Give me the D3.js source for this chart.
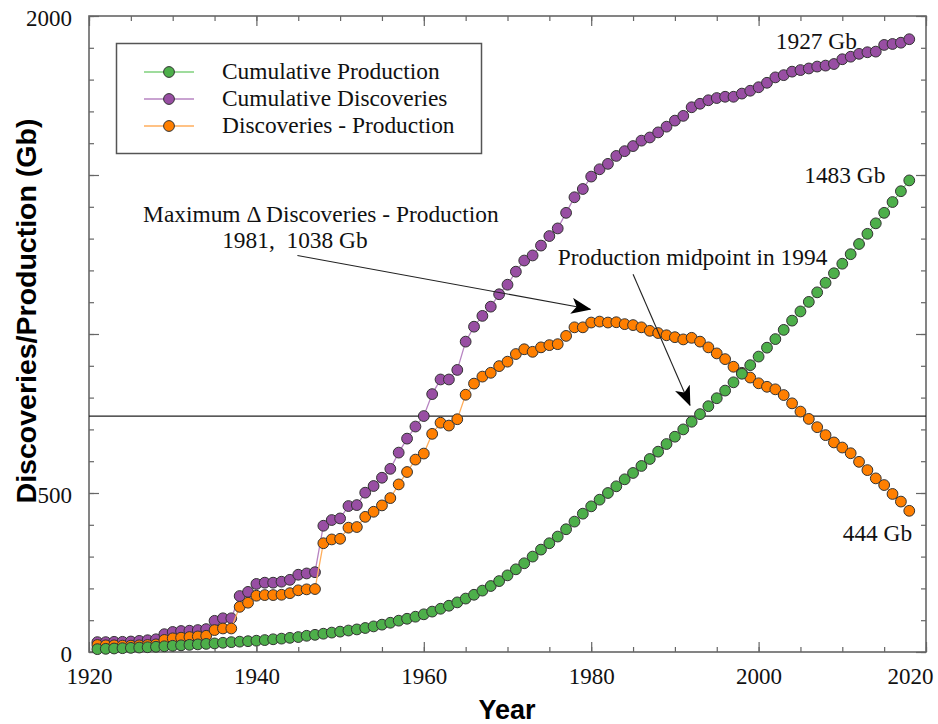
<!DOCTYPE html>
<html>
<head>
<meta charset="utf-8">
<script src="https://cdn.jsdelivr.net/npm/d3@7"></script>
<style>
  html, body { margin: 0; padding: 0; background: #fff; }
  svg { display: block; }
</style>
</head>
<body>
<svg id="chart" width="938" height="724"></svg>
<script>
// ---------------- DATA ----------------
const years = [1921,1922,1923,1924,1925,1926,1927,1928,1929,1930,
  1931,1932,1933,1934,1935,1936,1937,1938,1939,1940,
  1941,1942,1943,1944,1945,1946,1947,1948,1949,1950,
  1951,1952,1953,1954,1955,1956,1957,1958,1959,1960,
  1961,1962,1963,1964,1965,1966,1967,1968,1969,1970,
  1971,1972,1973,1974,1975,1976,1977,1978,1979,1980,
  1981,1982,1983,1984,1985,1986,1987,1988,1989,1990,
  1991,1992,1993,1994,1995,1996,1997,1998,1999,2000,
  2001,2002,2003,2004,2005,2006,2007,2008,2009,2010,
  2011,2012,2013,2014,2015,2016,2017,2018];

const cumProduction = [9,10,11,12,13,14,15,16.5,18,19.5,
  21,22.5,24,25.5,27,29,31,32.5,34,35.5,
  37.5,40,42,44.5,47,51,54,57.5,61,64,
  67.5,71,75.5,80.5,86,92,98.5,104.5,111,118.5,
  127,136,145.5,156,168,180,193,207.5,223,241,
  260,279,300,322,342,363,386,410,435,458,
  479,500,521,543,563,585,607,630,654,677,
  700,724,748,773,798,822,848,875,902,929,
  957,984,1013,1042,1071,1101,1131,1161,1191,1221,
  1251,1283,1315,1348,1381,1415,1449,1483];

const cumDiscoveries = [31,31,32,32,33,35,37,40,56,63,
  66,67,69,72,98,106,106,176,189,214,
  218,218,221,227,243,247,251,397,415,420,
  459,462,501,522,548,576,627,671,709,742,
  811,857,857,887,976,1023,1057,1086,1125,1155,
  1196,1231,1247,1278,1308,1332,1381,1430,1456,1495,
  1518,1535,1560,1575,1591,1608,1618,1634,1652,1671,
  1686,1713,1724,1735,1742,1746,1746,1756,1765,1776,
  1790,1807,1814,1825,1830,1835,1841,1844,1849,1864,
  1872,1881,1886,1888,1909,1912,1916,1927];

const discMinusProd = [22,21,21,20,20,21,22,24,38,43,
  45,47,49,51,69,74,74,142,155,177,
  179,179,180,185,194,197,198,342,354,356,
  391,393,425,441,461,484,527,566,605,624,
  686,721,712,732,809,844,866,878,899,913,
  937,952,944,958,965,968,994,1021,1021,1036,
  1039,1036,1037,1031,1028,1021,1010,1003,996,990,
  983,988,976,958,939,921,897,878,863,845,
  834,826,808,782,756,733,707,682,659,643,
  625,598,572,546,525,497,473,444];

const seriesNames = ["Cumulative Production", "Cumulative Discoveries", "Discoveries - Production"];
const xMajorTicks = [1920, 1940, 1960, 1980, 2000, 2020];
const yLabelledTicks = [0, 500, 2000];
const productionMidpoint = 741.5;

// ---------------- LAYOUT ----------------
const svg = d3.select("#chart");
const pLeft = 89, pRight = 926, pTop = 16, pBottom = 652;
const x = d3.scaleLinear().domain([1920, 2020]).range([pLeft, pRight]);
const y = d3.scaleLinear().domain([0, 2000]).range([pBottom, pTop]);

const fillColors = ["#4DAF4A", "#984EA3", "#FF7F00"];
const lineColors = ["#7FD07C", "#B784C2", "#FFAE5C"];
const serif = "'Liberation Serif','Times New Roman',serif";
const sans = "'Liberation Sans',Arial,sans-serif";
const frameColor = "#666";
const annFont = 23.4;

// ---------------- AXES ----------------
function styleAxis(g) {
  g.select(".domain").remove();
  g.selectAll(".tick line").attr("stroke", frameColor).attr("stroke-width", 1.2);
  g.selectAll(".tick text").attr("font-family", serif).attr("font-size", 23).attr("fill", "#111");
}
const xMinor = d3.range(1920, 2021, 5);
const yMinor = d3.range(0, 2001, 100);
// bottom
svg.append("g").attr("transform", `translate(0,${pBottom})`)
  .call(d3.axisBottom(x).tickValues(xMinor).tickSize(-5).tickFormat(""))
  .call(styleAxis);
svg.append("g").attr("transform", `translate(0,${pBottom})`)
  .call(d3.axisBottom(x).tickValues(xMajorTicks).tickSizeInner(-10).tickSizeOuter(0).tickPadding(16).tickFormat(d3.format("d")))
  .call(styleAxis)
  .call(g => g.selectAll(".tick text").filter(d => d === 2020).attr("dx", -16));
// top
svg.append("g").attr("transform", `translate(0,${pTop})`)
  .call(d3.axisTop(x).tickValues(xMinor).tickSize(-5).tickFormat(""))
  .call(styleAxis);
svg.append("g").attr("transform", `translate(0,${pTop})`)
  .call(d3.axisTop(x).tickValues(xMajorTicks).tickSize(-10).tickFormat(""))
  .call(styleAxis);
// left
svg.append("g").attr("transform", `translate(${pLeft},0)`)
  .call(d3.axisLeft(y).tickValues(yMinor).tickSize(-5).tickFormat(""))
  .call(styleAxis);
svg.append("g").attr("transform", `translate(${pLeft},0)`)
  .call(d3.axisLeft(y).tickValues(d3.range(0, 2001, 500)).tickSizeInner(-10).tickSizeOuter(0).tickPadding(17)
    .tickFormat(d => yLabelledTicks.includes(d) ? d3.format("d")(d) : ""))
  .call(styleAxis)
  .call(g => g.selectAll(".tick text").attr("dy", "0.42em"));
// right
svg.append("g").attr("transform", `translate(${pRight},0)`)
  .call(d3.axisRight(y).tickValues(yMinor).tickSize(-5).tickFormat(""))
  .call(styleAxis);
svg.append("g").attr("transform", `translate(${pRight},0)`)
  .call(d3.axisRight(y).tickValues(d3.range(0, 2001, 500)).tickSize(-10).tickFormat(""))
  .call(styleAxis);

// frame
svg.append("rect").attr("x", pLeft).attr("y", pTop)
  .attr("width", pRight - pLeft).attr("height", pBottom - pTop)
  .attr("fill", "none").attr("stroke", frameColor).attr("stroke-width", 1.6);

// axis titles
svg.append("text").attr("x", 507).attr("y", 719).attr("text-anchor", "middle")
  .attr("font-family", sans).attr("font-weight", "bold").attr("font-size", 27).text("Year");
svg.append("text").attr("transform", "translate(36,311) rotate(-90)").attr("text-anchor", "middle")
  .attr("font-family", sans).attr("font-weight", "bold").attr("font-size", 28.5)
  .text("Discoveries/Production (Gb)");

// midpoint horizontal line
svg.append("line").attr("x1", pLeft).attr("x2", pRight)
  .attr("y1", y(productionMidpoint)).attr("y2", y(productionMidpoint))
  .attr("stroke", "#222").attr("stroke-width", 1.2);

// ---------------- SERIES ----------------
const seriesValues = [cumProduction, cumDiscoveries, discMinusProd];
const drawOrder = [1, 2, 0];
const line = d3.line().x(d => x(d[0])).y(d => y(d[1]));
const r = 5.4;
drawOrder.forEach(i => {
  const pts = years.map((yr, k) => [yr, seriesValues[i][k]]);
  const g = svg.append("g");
  g.append("path").datum(pts).attr("d", line)
    .attr("fill", "none").attr("stroke", lineColors[i]).attr("stroke-width", 1.3);
  g.selectAll("circle").data(pts).join("circle")
    .attr("cx", d => x(d[0])).attr("cy", d => y(d[1])).attr("r", r)
    .attr("fill", fillColors[i]).attr("stroke", "#333").attr("stroke-width", 1);
});

// ---------------- LEGEND ----------------
const lg = svg.append("g");
lg.append("rect").attr("x", 116.5).attr("y", 43.5).attr("width", 365).attr("height", 110)
  .attr("fill", "#fff").attr("stroke", "#555").attr("stroke-width", 1.5);
seriesNames.forEach((name, i) => {
  const cy = 72 + i * 27;
  lg.append("line").attr("x1", 144).attr("x2", 194).attr("y1", cy).attr("y2", cy)
    .attr("stroke", lineColors[i]).attr("stroke-width", 1.3);
  lg.append("circle").attr("cx", 169).attr("cy", cy).attr("r", r)
    .attr("fill", fillColors[i]).attr("stroke", "#333").attr("stroke-width", 1);
  lg.append("text").attr("x", 222).attr("y", cy + 7).attr("font-family", serif)
    .attr("font-size", annFont).attr("fill", "#111").text(name);
});

// ---------------- ANNOTATIONS ----------------
const defs = svg.append("defs");
defs.append("marker").attr("id", "arrow").attr("viewBox", "0 0 20 16")
  .attr("refX", 19).attr("refY", 8).attr("markerWidth", 20).attr("markerHeight", 16)
  .attr("markerUnits", "userSpaceOnUse").attr("orient", "auto")
  .append("path").attr("d", "M0,0 L20,8 L0,16 L5,8 Z").attr("fill", "#000");

const annotations = [
  { text: "1927 Gb", yr: 2006.9, v: 1896, anchor: "middle" },
  { text: "1483 Gb", yr: 2010.3, v: 1475, anchor: "middle" },
  { text: "444 Gb", yr: 2014.2, v: 348, anchor: "middle" },
  { text: "Maximum \u0394 Discoveries - Production", yr: 1947.7, v: 1352, anchor: "middle" },
  { text: "1981,  1038 Gb", yr: 1944.6, v: 1270, anchor: "middle" },
  { text: "Production midpoint in 1994", yr: 1976.0, v: 1216, anchor: "start" }
];
annotations.forEach(a => {
  svg.append("text").attr("x", x(a.yr)).attr("y", y(a.v)).attr("text-anchor", a.anchor)
    .attr("font-family", serif).attr("font-size", annFont).attr("fill", "#111")
    .attr("xml:space", "preserve").style("white-space", "pre").text(a.text);
});

const arrows = [
  { from: [1944.9, 1247], to: [1979.9, 1078] },
  { from: [1985.0, 1188], to: [1991.8, 776] }
];
arrows.forEach(a => {
  svg.append("line").attr("x1", x(a.from[0])).attr("y1", y(a.from[1]))
    .attr("x2", x(a.to[0])).attr("y2", y(a.to[1]))
    .attr("stroke", "#222").attr("stroke-width", 1.1).attr("marker-end", "url(#arrow)");
});
</script>
</body>
</html>
